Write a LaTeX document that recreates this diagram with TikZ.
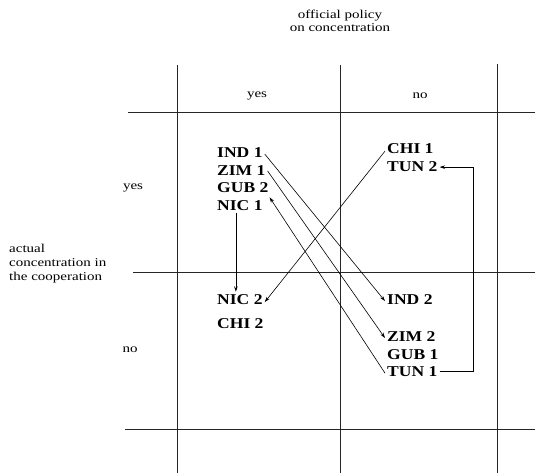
\documentclass[tikz,border=0pt]{standalone}
\usepackage{fontspec}
\setmainfont{Liberation Serif}
\newfontfamily\smallfam[FakeStretch=1.25]{Liberation Serif}
\newfontfamily\labfam[FakeStretch=1.17]{Liberation Serif}
\usetikzlibrary{arrows.meta}
\begin{document}
\begin{tikzpicture}[x=1pt,y=-1pt,
  grid/.style={line width=0.6pt,black!85},
  small/.style={font=\smallfam\fontsize{12}{13}\selectfont,inner sep=0pt},
  lab/.style={font=\labfam\bfseries\fontsize{15}{17}\selectfont,anchor=base west,inner sep=2pt},
  conn/.style={line width=0.6pt,-{Stealth[length=5.5pt,width=3.5pt]}}]
\useasboundingbox (0,0) rectangle (535,473);
% grid
\draw[grid] (177,65) -- (177,473);
\draw[grid] (340,65) -- (340,473);
\draw[grid] (497,64) -- (497,473);
\draw[grid] (128,112) -- (535,112);
\draw[grid] (133,272) -- (535,272);
\draw[grid] (125,429) -- (535,429);
% headings
\node[small,align=center] (head) at (340,21) {official policy\\on concentration};
\node[small] (tyes) at (257,96) {yes};
\node[small] (tno) at (420,96) {no};
\node[small] (lyes) at (133,188) {yes};
\node[small] (lno) at (130,350) {no};
\node[small,align=left,anchor=west,font=\smallfam\fontsize{12}{14}\selectfont] (side) at (9,264) {actual\\concentration in\\the cooperation};
% labels
\node[lab] (ind1) at (215,158) {IND 1};
\node[lab] (zim1) at (215,176) {ZIM 1};
\node[lab] (gub2) at (215,193) {GUB 2};
\node[lab] (nic1) at (215,211) {NIC 1};
\node[lab] (chi1) at (385,154) {CHI 1};
\node[lab] (tun2) at (385,172) {TUN 2};
\node[lab] (nic2) at (215,304) {NIC 2};
\node[lab] (chi2) at (215,328) {CHI 2};
\node[lab] (ind2) at (385,304) {IND 2};
\node[lab] (zim2) at (385,341) {ZIM 2};
\node[lab] (gub1) at (385,359) {GUB 1};
\node[lab] (tun1) at (385,376) {TUN 1};
% connectors
\coordinate (turn) at (473,0);
\draw[conn] ([yshift=-1pt]ind1.east) -- ([yshift=-2pt]ind2.west);
\draw[conn] (zim1.east) -- ([yshift=-2pt]zim2.west);
\draw[conn] ([yshift=-2pt]tun1.west) -- ([xshift=-1pt,yshift=-2pt]gub2.south east);
\draw[conn] ([yshift=-2pt]chi1.west) -- ([yshift=-3pt]nic2.east);
\draw[conn] ([xshift=-4pt]nic1.south) -- ([xshift=-4pt]nic2.north);
\draw[conn] (tun1.east) -| (turn |- tun2.east) -- (tun2.east);
\end{tikzpicture}
\end{document}
